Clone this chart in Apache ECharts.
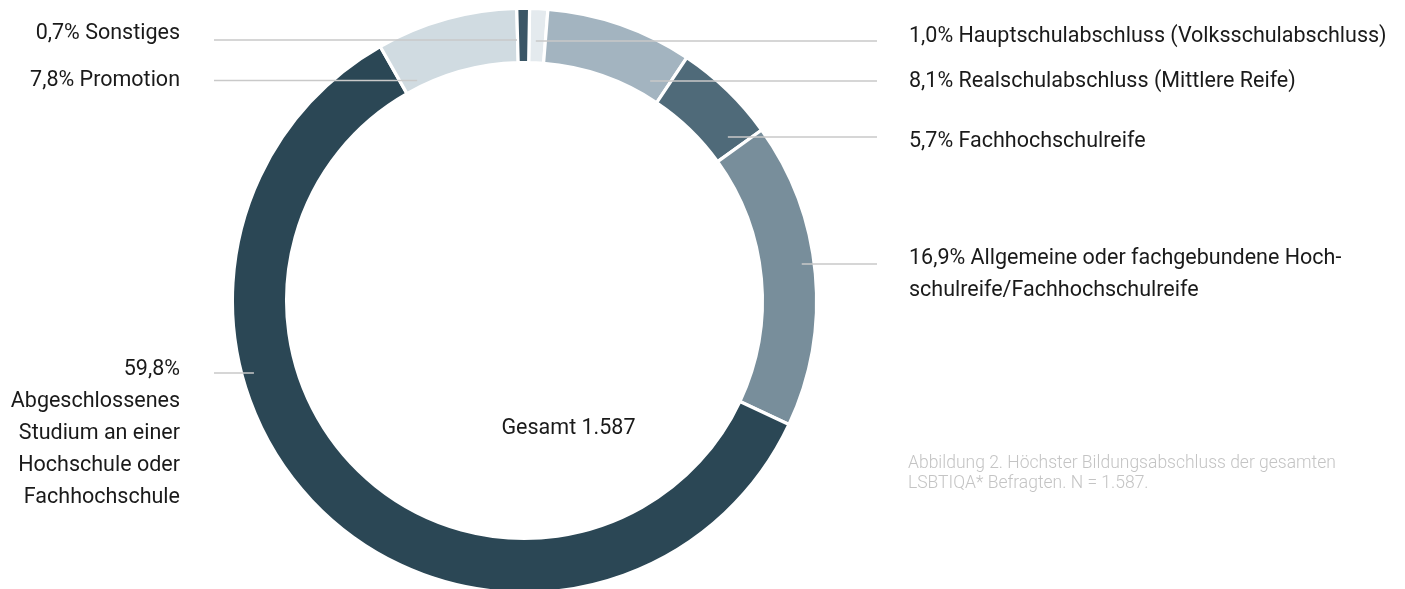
<!DOCTYPE html>
<html>
<head>
<meta charset="utf-8">
<script src="https://cdn.jsdelivr.net/npm/echarts@6/dist/echarts.min.js"></script>
<style>
  html, body { margin: 0; padding: 0; background: #ffffff; }
  #chart { width: 1405px; height: 589px; }
</style>
</head>
<body>
<div id="chart"></div>
<script>
// Highest educational qualification of all respondents (shares in percent)
const categories = [
  'Hauptschulabschluss (Volksschulabschluss)',
  'Realschulabschluss (Mittlere Reife)',
  'Fachhochschulreife',
  'Allgemeine oder fachgebundene Hoch-\nschulreife/Fachhochschulreife',
  'Abgeschlossenes\nStudium an einer\nHochschule oder\nFachhochschule',
  'Promotion',
  'Sonstiges'
];
const shares = [1.0, 8.1, 5.7, 16.9, 59.8, 7.8, 0.7];
const respondents = 1587;
const captionText = 'Abbildung 2. Höchster Bildungsabschluss der gesamten\nLSBTIQA* Befragten. N = ';

// Styling and layout
const sliceColors = ['#e4eaee', '#a3b4c0', '#4f6a79', '#788e9b', '#2b4755', '#d0dbe1', '#3b5666'];
const CENTER = [524.5, 300.5];
const R_IN = 239.5;
const R_OUT = 290.5;
const GAP = 3.2;
const labelSide = ['right', 'right', 'right', 'right', 'left', 'left', 'left'];
const labelTextY = [37, 81.5, 141.5, 259, 370, 80.5, 33.5];
const labelLineY = [41, 81, 137, 264, 373, 80.5, 40];
const lineAngle = [2.5, 29.8, 51.2, 82.5, 255, 334, 358.35]; // degrees clockwise from 12 o'clock
const valueBreak = [' ', ' ', ' ', ' ', '\n', ' ', ' '];
const LINE_H = 32;
const RIGHT_X = 909, LEFT_X = 180;
const RIGHT_LINE_X = 877, LEFT_LINE_X = 214;

const fmtPct = v => v.toFixed(1).replace('.', ',') + '%';
const fmtInt = n => String(n).replace(/\B(?=(\d{3})+(?!\d))/g, '.');

// x where a ray from the centre at the given angle meets the row y
function rowX(angleDeg, y) {
  const a = angleDeg * Math.PI / 180;
  const t = (CENTER[1] - y) / Math.cos(a);
  return CENTER[0] + t * Math.sin(a);
}

const ringData = shares.map((v, i) => ({
  value: v,
  name: categories[i],
  itemStyle: { color: sliceColors[i] }
}));

const pieBase = {
  type: 'pie',
  center: CENTER,
  radius: [R_IN - GAP / 2, R_OUT + GAP / 2],
  startAngle: 89,
  clockwise: true,
  avoidLabelOverlap: false,
  silent: true,
  emphasis: { disabled: true }
};

const chart = echarts.init(document.getElementById('chart'), null, { renderer: 'canvas' });

chart.setOption({
  animation: false,
  backgroundColor: '#ffffff',
  series: [
    // the ring itself
    Object.assign({}, pieBase, {
      z: 2,
      itemStyle: { borderColor: '#ffffff', borderWidth: GAP },
      label: { show: false },
      labelLine: { show: false },
      data: ringData
    }),
    // transparent copy carrying labels and leader lines drawn over the ring
    Object.assign({}, pieBase, {
      z: 3,
      itemStyle: { color: 'rgba(0,0,0,0)', borderWidth: 0 },
      label: {
        show: true,
        position: 'outside',
        fontFamily: 'Roboto',
        fontSize: 21.5,
        lineHeight: LINE_H,
        color: '#1a1a1a',
        formatter: p => fmtPct(p.value) + valueBreak[p.dataIndex] + p.name
      },
      labelLine: {
        show: true,
        showAbove: true,
        length: 10,
        length2: 10,
        lineStyle: { color: '#c9c9c9', width: 1.5 }
      },
      labelLayout: function (p) {
        const i = p.dataIndex;
        const right = labelSide[i] === 'right';
        const ly = labelLineY[i];
        const xEnd = rowX(lineAngle[i], ly);
        const xOut = right ? RIGHT_LINE_X : LEFT_LINE_X;
        return {
          x: right ? RIGHT_X : LEFT_X,
          y: labelTextY[i] - LINE_H / 2,
          align: right ? 'left' : 'right',
          verticalAlign: 'top',
          labelLinePoints: [[xEnd, ly], [(xEnd + xOut) / 2, ly], [xOut, ly]]
        };
      },
      data: shares.map((v, i) => ({ value: v, name: categories[i] }))
    })
  ],
  graphic: [
    {
      type: 'text',
      x: 568.5,
      y: 428.5,
      silent: true,
      style: {
        text: 'Gesamt ' + fmtInt(respondents),
        font: '21.5px Roboto',
        fill: '#1a1a1a',
        align: 'center', textAlign: 'center',
        verticalAlign: 'middle', textVerticalAlign: 'middle'
      }
    },
    {
      type: 'text',
      x: 908,
      y: 453.5,
      silent: true,
      style: {
        text: captionText + fmtInt(respondents) + '.',
        font: '300 17.5px Roboto',
        lineHeight: 20,
        fill: '#c4c4c4',
        align: 'left', textAlign: 'left',
        verticalAlign: 'top', textVerticalAlign: 'top'
      }
    }
  ]
});
</script>
</body>
</html>
